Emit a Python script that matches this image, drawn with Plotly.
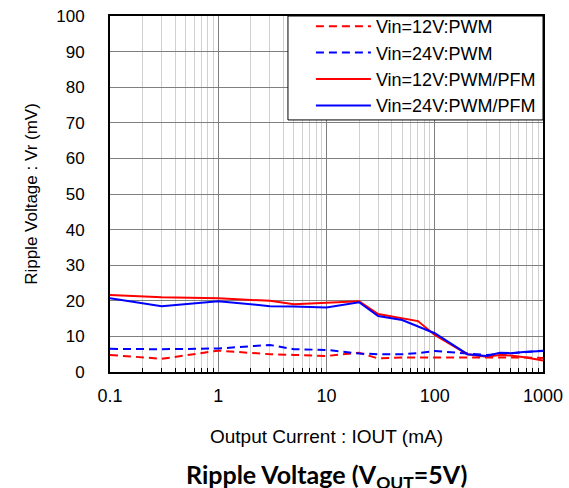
import plotly.graph_objects as go

iout = [0.1, 0.3, 1, 3, 5, 10, 20, 30, 50, 70, 100, 200, 300, 400, 500, 700, 1000]
vr_12_pwm = [4.8, 3.7, 6.0, 5.0, 4.8, 4.5, 5.4, 3.8, 4.1, 4.1, 4.1, 4.1, 4.1, 4.2, 4.3, 4.1, 3.9]
vr_24_pwm = [6.5, 6.4, 6.6, 7.6, 6.4, 6.2, 5.2, 5.0, 5.0, 5.3, 5.9, 5.2, 4.8, 5.0, 5.2, 5.7, 6.0]
vr_12_pfm = [21.6, 21.0, 20.7, 20.0, 19.0, 19.5, 19.9, 16.3, 15.2, 14.3, 10.4, 5.0, 4.3, 4.8, 4.6, 4.1, 3.2]
vr_24_pfm = [20.7, 18.5, 19.9, 18.5, 18.4, 18.1, 19.6, 15.7, 14.6, 12.7, 10.9, 5.0, 4.5, 5.4, 5.3, 5.7, 5.9]

names = ["Vin=12V:PWM", "Vin=24V:PWM", "Vin=12V:PWM/PFM", "Vin=24V:PWM/PFM"]
series = [vr_12_pwm, vr_24_pwm, vr_12_pfm, vr_24_pfm]
colors = ["#ff0000", "#0000ff", "#ff0000", "#0000ff"]
dashes = ["8px,5px", "8px,5px", "solid", "solid"]

x_ticks = [0.1, 1, 10, 100, 1000]
x_ticktext = ["0.1", "1", "10", "100", "1000"]
minor_vals = [m * 10 ** e for e in range(-1, 3) for m in range(2, 10)]

fig = go.Figure()
for n, s, c, d in zip(names, series, colors, dashes):
    fig.add_trace(go.Scatter(x=iout, y=s, mode="lines", name=n,
                             line=dict(color=c, width=2, dash=d)))

font = "Liberation Sans, Arial, sans-serif"
fig.update_layout(
    width=569, height=488,
    margin=dict(l=110, r=26, t=16, b=116, autoexpand=False),
    paper_bgcolor="white", plot_bgcolor="white",
    font=dict(family=font, color="black"),
    showlegend=True,
    legend=dict(x=0.464, y=0.9836, xanchor="left", yanchor="top", yref="container",
                bgcolor="rgba(0,0,0,0)", borderwidth=0,
                font=dict(size=18, family=font), itemwidth=55,
                tracegroupgap=0),
    xaxis=dict(type="log", range=[-1, 3], tickvals=x_ticks, ticktext=x_ticktext,
               showgrid=True, gridcolor="#7f7f7f", gridwidth=1,
               minor=dict(tickvals=minor_vals, showgrid=True, gridcolor="#d0d0d0",
                          ticks="inside", ticklen=4, tickcolor="black"),
               showline=True, linecolor="black", linewidth=2, mirror=True,
               ticks="", tickfont=dict(size=18), ticklabelstandoff=6,
               title=dict(text="Output Current : IOUT (mA)", font=dict(size=19), standoff=25),
               zeroline=False, automargin=False),
    yaxis=dict(range=[0, 100], dtick=10,
               showgrid=True, gridcolor="#7f7f7f", gridwidth=1,
               showline=True, linecolor="black", linewidth=2, mirror=True,
               ticks="", tickfont=dict(size=17), ticklabelstandoff=20,
               title=dict(text="Ripple Voltage : Vr (mV)", font=dict(size=17), standoff=14),
               zeroline=False, automargin=False),
)
# legend frame
fig.add_shape(type="rect", xref="paper", yref="paper", x0=0.411, x1=1.0, y0=0.708, y1=1.0,
              fillcolor="white", line=dict(color="black", width=1), layer="above")
fig.add_annotation(text="<b>Ripple Voltage (V<sub>OUT</sub>=5V)</b>",
                   xref="paper", yref="paper", x=0.5, y=-0.292, yanchor="middle",
                   showarrow=False, font=dict(size=25, family="Lato, Open Sans, sans-serif"))

fig.write_html("out.html", config={"displayModeBar": False},
               post_script="document.body.style.margin='0px';")
